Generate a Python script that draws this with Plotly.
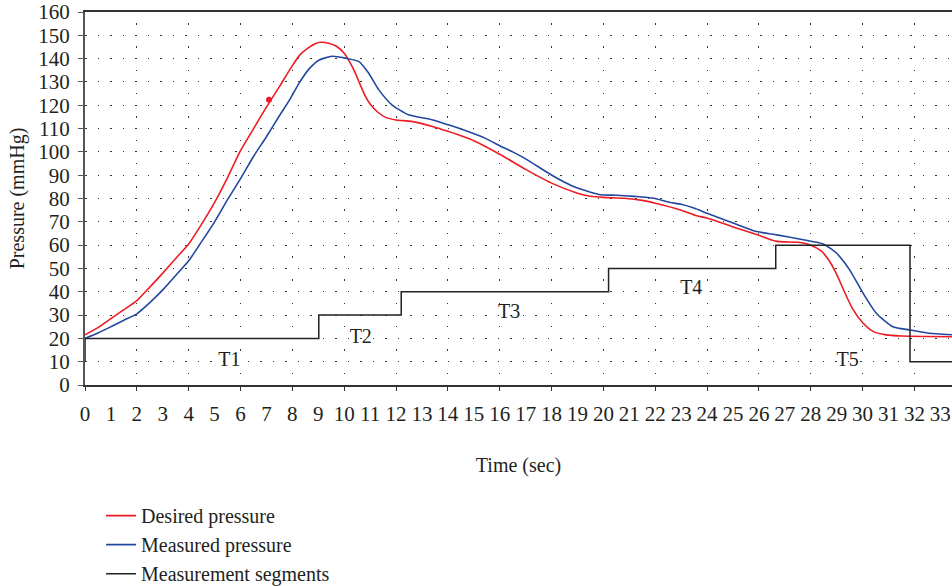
import plotly.graph_objects as go

# ---------------- data ----------------
desired_x = [0, 0.5, 1.0, 1.5, 2.0, 2.5, 3.0, 3.5, 4.0, 4.5, 5.0, 5.5, 6.0, 6.5, 7.0, 7.5,
             8.0, 8.3, 8.6, 8.9, 9.1, 9.4, 9.7, 10.0, 10.2, 10.4, 10.6, 10.8, 11.0, 11.3,
             11.6, 12.0, 12.6, 13.4, 14.0, 15.0, 16.0, 17.0, 18.0, 19.0, 19.5, 20.0, 20.8,
             21.5, 22.0, 23.0, 23.6, 24.0, 25.0, 26.0, 26.7, 27.5, 28.0, 28.4, 28.7, 29.0,
             29.3, 29.6, 30.0, 30.4, 30.9, 31.5, 32.5, 33.5]
desired_y = [21.5, 24.6, 28.5, 32.3, 36.2, 42.0, 48.0, 54.3, 60.5, 69.0, 78.3, 89.0, 100.5,
             109.9, 119.2, 128.0, 137.0, 141.7, 144.5, 146.5, 147.0, 146.6, 145.3, 142.3,
             138.8, 134.5, 129.3, 124.2, 120.5, 117.0, 114.8, 113.7, 113.1, 110.9, 108.8,
             104.8, 99.0, 92.5, 86.6, 82.3, 81.0, 80.5, 80.1, 79.2, 78.0, 75.0, 72.6, 71.6,
             67.8, 64.2, 61.6, 61.2, 60.0, 57.5, 53.5, 47.5, 40.0, 33.0, 26.8, 23.0, 21.5,
             21.0, 20.8, 20.7]

measured_x = [0, 0.5, 1.0, 1.5, 2.0, 2.5, 3.0, 3.5, 4.0, 4.5, 5.0, 5.5, 6.0, 6.5, 7.0, 7.5,
              7.9, 8.26, 8.64, 9.02, 9.53, 10.05, 10.56, 10.94, 11.33, 11.84, 12.48, 13.38,
              14.02, 14.4, 15.43, 16.06, 16.5, 17.0, 17.98, 18.5, 19.0, 19.9, 20.5, 21.19,
              21.95, 22.5, 23.0, 23.49, 24.0, 25.0, 25.92, 26.69, 27.71, 28.48, 28.8, 29.0,
              29.5, 30.02, 30.53, 31.17, 31.81, 32.5, 33.5]
measured_y = [20.0, 22.3, 25.0, 27.8, 30.5, 35.3, 40.8, 47.0, 53.3, 61.5, 70.0, 79.5, 88.5,
              98.0, 106.5, 115.5, 122.4, 129.5, 135.5, 139.3, 141.0, 140.2, 138.8, 133.8,
              126.7, 120.2, 115.9, 113.8, 111.6, 110.2, 105.9, 102.3, 100.0, 97.0, 90.2, 87.0,
              84.5, 81.6, 81.4, 80.9, 80.1, 78.5, 77.5, 75.9, 73.7, 69.5, 65.8, 64.4, 62.3,
              60.5, 58.3, 56.5, 49.4, 39.4, 30.8, 25.0, 23.6, 22.3, 21.5]

segments_x = [0, 0, 9.02, 9.02, 12.2, 12.2, 20.2, 20.2, 26.65, 26.65, 31.83, 31.83, 33.5]
segments_y = [10, 20, 20, 30, 30, 40, 40, 50, 50, 60, 60, 10, 10]

marker_x = [7.1]
marker_y = [122.4]

segment_labels = ["T1", "T2", "T3", "T4", "T5"]
segment_label_x = [5.57, 10.64, 16.36, 23.39, 29.42]
segment_label_y = [10.3, 20.2, 30.9, 41.2, 10.3]

x_tick_vals = list(range(0, 34))
y_tick_vals = list(range(0, 161, 10))

# ---------------- figure ----------------
FONT = "Liberation Serif"
TXT = "#231F20"
RED = "#ED1C24"
BLUE = "#2347A0"
FS = 20
TFS = 21
XR = [0, 33.45]

fig = go.Figure()
fig.add_trace(go.Scatter(x=desired_x, y=desired_y, mode="lines", name="Desired pressure",
                         line=dict(color=RED, width=1.6, shape="spline", smoothing=0.6),
                         legendgroup="a"))
fig.add_trace(go.Scatter(x=measured_x, y=measured_y, mode="lines", name="Measured pressure",
                         line=dict(color=BLUE, width=1.6, shape="spline", smoothing=0.6),
                         legendgroup="b"))
fig.add_trace(go.Scatter(x=segments_x, y=segments_y, mode="lines", name="Measurement segments",
                         line=dict(color="#222222", width=1.5), legendgroup="c"))
fig.add_trace(go.Scatter(x=marker_x, y=marker_y, mode="markers", showlegend=False,
                         marker=dict(color=RED, size=6)))
# carrier for the grid axis
fig.add_trace(go.Scatter(x=[0], y=[0], mode="markers", xaxis="x2", showlegend=False,
                         marker=dict(opacity=0), hoverinfo="skip"))

fig.add_trace(go.Scatter(x=segment_label_x, y=segment_label_y, mode="text",
                         text=segment_labels, showlegend=False,
                         textfont=dict(family=FONT, size=FS, color=TXT)))

fig.update_layout(
    width=952, height=586,
    margin=dict(l=85, r=0, t=12, b=201, autoexpand=False),
    paper_bgcolor="white", plot_bgcolor="white",
    font=dict(family=FONT, size=FS, color=TXT),
    showlegend=True,
    legend=dict(x=0.0185, y=-0.298, xanchor="left", yanchor="top",
                font=dict(family=FONT, size=FS, color=TXT),
                tracegroupgap=0, traceorder="grouped", bgcolor="rgba(0,0,0,0)"),
    xaxis=dict(range=XR, tickvals=x_tick_vals, showgrid=False, zeroline=False,
               automargin=False, ticklabeloverflow="allow",
               ticks="", showline=True, linecolor="#333333", linewidth=2, mirror=True,
               ticklabelstandoff=9,
               tickfont=dict(family=FONT, size=TFS, color=TXT),
               title=dict(text="Time (sec)", font=dict(family=FONT, size=FS, color=TXT),
                          standoff=33)),
    xaxis2=dict(range=XR, overlaying="x", side="bottom", tick0=0, dtick=2,
                automargin=False,
                showticklabels=False, ticks="outside", ticklen=5, tickcolor="#333333",
                showgrid=True, gridcolor="#333333", gridwidth=1.2,
                griddash="0px,11px,1.5px,10.8px", zeroline=False, showline=False),
    yaxis=dict(range=[0, 160], tickvals=y_tick_vals, showgrid=True, gridcolor="#333333",
               automargin=False,
               gridwidth=1.2, griddash="1.5px,11px", zeroline=False, ticks="outside",
               ticklen=5, tickcolor="#555555", showline=True, linecolor="#555555",
               linewidth=2, ticklabelstandoff=4,
               tickfont=dict(family=FONT, size=TFS, color=TXT),
               title=dict(text="Pressure (mmHg)", font=dict(family=FONT, size=FS, color=TXT),
                          standoff=8)),
)

fig.write_html("out.html", config={"displayModeBar": False},
               post_script="document.body.style.margin='0';document.body.style.overflow='hidden';")
